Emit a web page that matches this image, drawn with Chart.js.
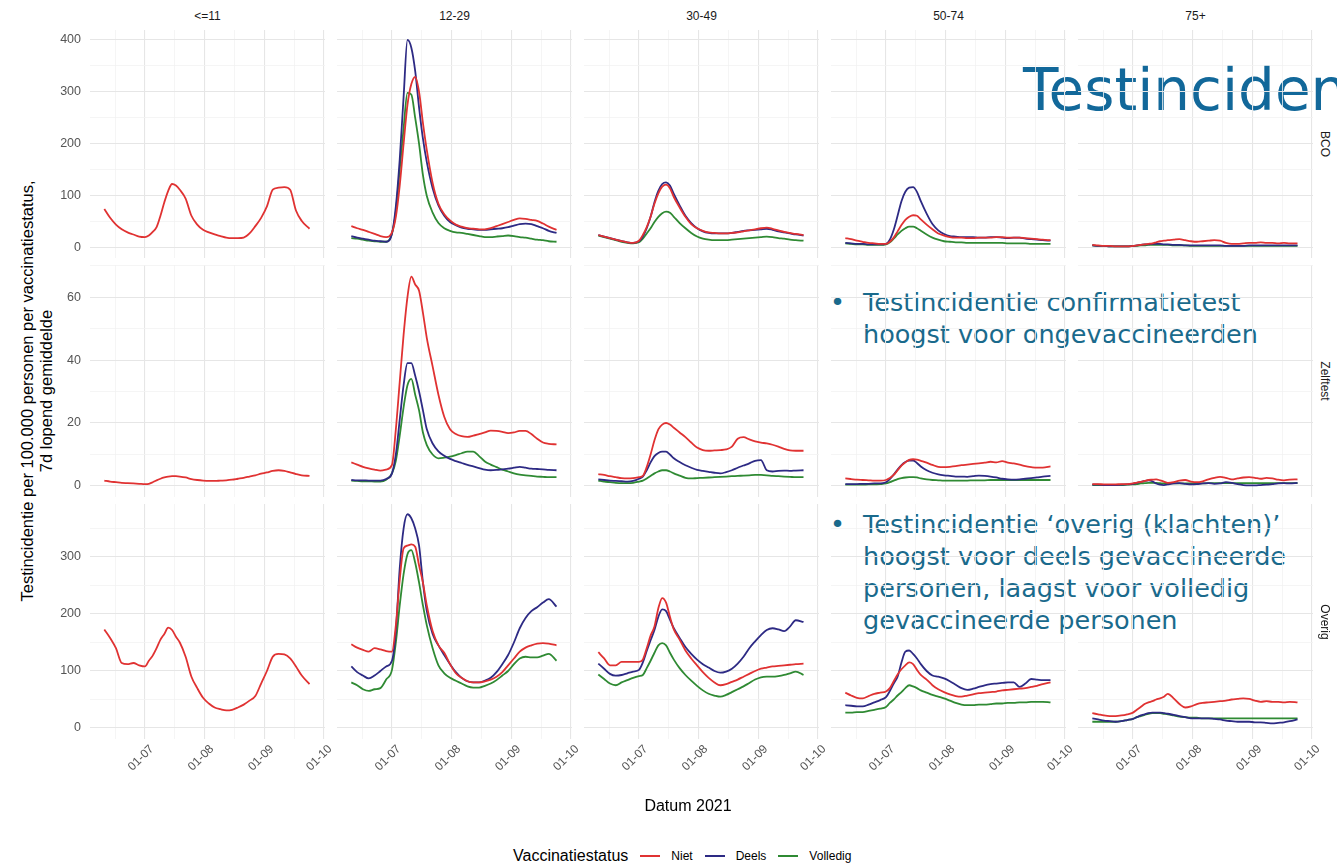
<!DOCTYPE html>
<html lang="nl">
<head>
<meta charset="UTF-8">
<title>Testincidentie per vaccinatiestatus</title>
<script src="https://cdn.jsdelivr.net/npm/chart.js"></script>
<style>
  body { margin:0; width:1337px; height:868px; overflow:hidden; background:#fff; position:relative;
         font-family:"Liberation Sans", Arial, sans-serif; }
  canvas { position:absolute; }
  .strip { position:absolute; font-size:12px; color:#1a1a1a; text-align:center; line-height:14px; }
  .axtitle { position:absolute; font-size:16px; color:#000; text-align:center; line-height:19px; white-space:nowrap; }
  #legend { position:absolute; left:513px; top:847px; display:flex; align-items:center; white-space:nowrap; }
  #legend .ttl { font-size:16px; margin-right:12px; }
  #legend .key { width:20px; height:2px; margin-right:11px; }
  #legend .lab { font-size:12px; margin-right:12px; }
  .slide { position:absolute; font-family:"DejaVu Sans", Verdana, sans-serif; white-space:nowrap; }
  #bigTitle { left:1023px; top:61px; font-size:58px; line-height:58px; color:#12689a; }
  .bullet { left:830px; font-size:25.5px; line-height:32px; color:#1a6a8c; display:flex; }
  .bullet .dot { width:33px; }
</style>
</head>
<body>

<div id="bigTitle" class="slide">Testincidentie</div>
<div class="slide bullet" style="top:286px"><span class="dot">•</span><span>Testincidentie confirmatietest<br>hoogst voor ongevaccineerden</span></div>
<div class="slide bullet" style="top:508px"><span class="dot">•</span><span>Testincidentie ‘overig (klachten)’<br>hoogst voor deels gevaccineerde<br>personen, laagst voor volledig<br>gevaccineerde personen</span></div>

<script>
// ---- data (day of year 2021) ----
const days = [161,164,167,170,173,176,179,182,184,186,188,190,192,194,196,198,200,203,206,209,212,215,218,221,224,227,230,233,236,239,242,245,248,251,254,257,260,263,267];
const ageGroups = ['<=11', '12-29', '30-49', '50-74', '75+'];
const testTypes = ['BCO', 'Zelftest', 'Overig'];
const statuses = ['Niet', 'Deels', 'Volledig'];
const monthTicks = [182, 213, 244, 274];
const monthLabels = ['01-07', '01-08', '01-09', '01-10'];
const bcoBreaks = [0, 100, 200, 300, 400];
const zelfBreaks = [0, 20, 40, 60];
const overigBreaks = [0, 100, 200, 300];

// BCO
const bco11Niet = [75,58,45,36,30,26,22,21,24,31,40,62,88,110,123,120,112,95,62,45,35,30,26,23,20,19,19,20,28,42,58,80,112,116,117,112,72,52,37];
const bco1229Niet = [42,38,35,31,27,23,21,30,60,120,200,275,315,329,300,240,188,125,85,65,53,45,41,38,37,36,36,38,42,46,50,54,57,56,54,52,47,41,35];
const bco1229Deels = [23,20,18,16,14,13,12,28,80,170,290,400,385,340,270,210,165,115,82,62,50,44,39,37,36,35,35,36,37,38,40,43,46,47,46,42,38,33,29];
const bco1229Volledig = [19,18,16,14,13,12,12,28,70,150,230,298,295,250,200,140,100,68,48,38,33,30,29,27,25,23,21,21,22,23,24,23,21,20,18,16,15,13,12];
const bco3049Niet = [25,22,19,16,13,11,10,14,25,40,60,85,105,118,122,115,98,78,60,46,38,33,30,29,28,28,29,30,32,34,36,38,39,37,34,31,29,27,25];
const bco3049Deels = [25,22,19,16,13,11,10,13,22,38,60,88,110,123,126,120,104,82,62,48,38,32,29,28,28,28,29,31,33,34,35,36,37,35,32,30,28,26,24];
const bco3049Volledig = [24,21,18,15,12,10,9,11,18,28,38,50,60,67,70,68,60,48,38,29,22,18,16,15,15,15,16,17,18,19,20,21,22,21,19,18,16,15,14];
const bco5074Niet = [19,17,14,12,10,9,8,8,12,20,32,44,54,60,63,62,55,45,36,28,24,21,20,20,19,19,20,20,20,21,21,20,20,20,19,18,17,16,15];
const bco5074Deels = [10,9,8,8,7,7,7,8,16,35,62,90,108,116,117,108,90,66,46,34,27,23,22,21,21,21,20,20,21,21,20,19,20,20,18,17,16,15,14];
const bco5074Volledig = [9,8,7,7,6,6,6,7,11,18,26,33,38,41,41,38,33,26,20,16,13,12,11,11,10,10,10,10,10,10,10,9,9,9,9,8,8,8,8];
const bco75Niet = [6,5,4,4,3,3,3,4,5,6,7,8,9,11,13,14,15,16,17,15,13,12,13,14,15,14,10,8,8,9,10,10,11,10,10,9,10,9,9];
const bco75Deels = [5,4,4,3,3,3,3,4,5,6,7,7,8,8,8,7,7,6,6,5,5,5,5,5,5,5,4,4,4,4,5,5,5,5,5,5,5,5,5];
const bco75Volledig = [5,4,4,3,3,3,3,4,4,5,5,6,6,6,6,6,6,5,5,5,4,4,4,4,4,4,4,4,4,4,4,4,4,4,4,4,4,4,4];

// Zelftest
const zelf11Niet = [1.7,1.4,1.2,1,0.9,0.8,0.7,0.6,0.7,1.2,1.8,2.3,2.7,3,3.1,3.1,3,2.7,2.2,1.9,1.7,1.6,1.6,1.7,1.8,2,2.3,2.6,3,3.4,3.9,4.3,4.8,5,4.8,4.3,3.8,3.4,3.2];
const zelf1229Niet = [7.5,6.8,6.1,5.6,5.2,4.9,5.2,6.7,18,33,48,60,66.5,64,62,55,47,38,29,22,18,16.5,15.8,15.6,16,16.5,17,17.6,17.5,17.2,16.8,17,17.5,17.5,16.5,15,13.8,13.4,13.2];
const zelf1229Deels = [1.9,1.8,1.8,1.7,1.7,1.7,2.2,4,10,21,32,39,39,35,30,24,18,13.5,11,9.6,8.6,7.9,7.3,6.7,6.2,5.7,5.2,5,5.1,5.3,5.5,5.8,6.1,5.8,5.5,5.4,5.3,5.1,5];
const zelf1229Volledig = [1.7,1.6,1.5,1.5,1.4,1.4,2,4,8,16,25,32,34,29,24,17,13,10,8.8,9,9.3,9.8,10.4,10.9,10.9,9.5,7.8,6.8,6,5.2,4.6,4,3.6,3.4,3.2,3,2.9,2.8,2.8];
const zelf3049Niet = [3.8,3.5,3.1,2.8,2.5,2.4,2.5,2.8,3.2,6,10,14.5,18,19.5,20,19.5,18.5,17,15.5,13.8,12.2,11.4,11.2,11.3,11.4,11.6,12.5,15,15.5,14.8,14.2,13.8,13.5,13.1,12.5,11.8,11.3,11.2,11.2];
const zelf3049Deels = [2.1,1.9,1.7,1.6,1.5,1.4,1.6,2.3,3,5,7.5,9.5,10.5,10.9,10.9,10,8.8,7.6,6.6,5.8,5.1,4.8,4.5,4.2,4,4.4,5,5.8,6.5,7.2,8,8.2,5,4.6,4.8,4.9,4.8,4.9,5];
const zelf3049Volledig = [1.7,1.4,1.2,1,0.9,0.9,1,1.4,1.7,2.4,3.2,4,4.6,5,5,4.6,4,3.3,2.6,2.4,2.5,2.6,2.7,2.8,2.9,3,3.1,3.2,3.3,3.4,3.5,3.5,3.4,3.2,3.1,3,2.9,2.8,2.8];
const zelf5074Niet = [2.4,2.2,2,1.9,1.8,1.7,1.7,1.9,2.5,3.5,5,6.5,7.5,8.3,8.5,8.4,8,7.4,6.7,6.1,6,6.1,6.3,6.6,6.8,7,7.2,7.4,7.7,7.5,7.9,7.4,7.2,6.8,6.3,6,5.8,5.8,6.2];
const zelf5074Deels = [0.6,0.6,0.6,0.7,0.7,0.8,0.8,1.2,2.2,3.6,5.2,6.6,7.6,8.1,8.1,7.3,6.2,5,4.2,3.7,3.4,3.2,3,3,2.9,3.1,3.3,3.2,3,2.7,2.3,2.1,2,2.1,2.3,2.5,2.7,3,3.2];
const zelf5074Volledig = [0.4,0.4,0.4,0.4,0.5,0.5,0.6,0.8,1.2,1.7,2.2,2.5,2.7,2.8,2.8,2.7,2.4,2.1,1.9,1.8,1.7,1.7,1.7,1.7,1.7,1.8,1.8,1.8,1.9,1.9,1.9,1.9,1.9,1.9,1.9,1.9,1.9,1.9,1.9];
const zelf75Niet = [0.6,0.6,0.5,0.5,0.5,0.6,0.6,0.8,1.1,1.3,1.6,1.9,2,2.1,1.8,1.4,1,1.2,1.7,1.9,1.4,1.2,1.5,2.1,2.6,2.9,2.6,2.1,2.4,2.7,2.8,2.6,2.3,2.6,2.4,2,1.8,2,2.1];
const zelf75Deels = [0.4,0.4,0.3,0.3,0.3,0.4,0.5,0.7,1,1.3,1.6,1.8,1.5,0.8,0.4,0.3,0.5,0.8,0.9,0.7,0.5,0.6,0.8,0.9,0.7,0.8,1.2,1,0.6,0.3,0.2,0.2,0.3,0.4,0.6,0.8,0.9,0.8,1];
const zelf75Volledig = [0.3,0.3,0.3,0.3,0.3,0.3,0.4,0.5,0.6,0.8,0.9,1,1,1,0.9,0.8,0.8,0.8,0.8,0.8,0.8,0.8,0.8,0.9,0.9,0.9,0.9,0.9,0.9,0.9,0.9,0.9,0.9,0.9,0.9,0.9,0.9,0.9,0.9];

// Overig
const ov11Niet = [173,158,140,114,112,114,110,108,118,127,140,155,165,176,172,160,150,125,90,70,53,43,36,33,31,32,36,41,48,56,78,100,125,130,129,122,108,92,77];
const ov1229Niet = [147,141,137,134,140,138,135,134,180,260,315,320,322,318,285,255,215,170,145,132,112,96,88,82,80,80,82,85,90,98,110,122,134,141,145,148,149,148,145];
const ov1229Deels = [108,98,92,87,92,100,108,118,170,280,350,375,368,350,320,255,205,165,145,128,112,98,88,82,80,80,83,88,98,112,128,150,175,193,205,212,220,226,213];
const ov1229Volledig = [80,75,68,65,68,70,85,102,150,215,270,305,312,290,255,215,180,140,110,96,88,83,78,73,71,71,74,78,84,92,100,112,122,125,124,124,127,130,118];
const ov3049Niet = [133,122,110,110,116,116,116,116,120,140,162,178,210,228,220,195,173,155,136,122,110,98,88,80,75,77,81,85,90,95,100,104,106,108,109,110,111,112,113];
const ov3049Deels = [113,104,95,92,93,96,99,102,115,135,154,172,195,208,205,190,175,158,142,130,120,112,106,100,97,99,104,113,125,140,152,163,172,175,173,170,178,189,186];
const ov3049Volledig = [94,86,78,75,80,84,88,91,93,105,118,132,145,149,145,132,120,105,93,83,74,66,60,57,55,58,63,68,73,79,85,89,90,90,91,93,96,99,93];
const ov5074Niet = [62,57,53,52,56,60,62,64,70,82,94,103,110,115,112,102,93,85,75,68,63,59,56,55,57,59,61,62,63,64,66,67,68,69,70,72,74,77,80];
const ov5074Deels = [40,39,38,38,41,45,49,54,65,78,90,115,134,136,130,122,112,100,92,90,87,82,76,70,67,69,72,75,77,78,79,80,80,72,78,86,85,84,84];
const ov5074Volledig = [27,27,28,28,30,32,34,37,44,50,57,63,70,75,73,70,66,62,58,55,52,48,44,41,40,40,41,41,42,43,43,44,44,45,45,46,46,46,45];
const ov75Niet = [26,24,22,21,21,22,24,27,32,37,42,45,47,50,52,55,60,52,42,36,38,42,44,45,46,47,48,50,51,52,51,48,46,47,46,46,45,46,45];
const ov75Deels = [17,15,13,12,11,12,14,16,19,22,24,26,27,27,27,26,25,23,21,19,17,17,17,17,16,15,13,12,11,11,11,10,10,9,8,9,10,12,15];
const ov75Volledig = [11,11,11,11,11,12,14,16,19,21,23,25,26,26,26,25,24,22,20,19,18,18,17,17,17,17,17,17,17,17,17,17,17,17,17,17,17,17,17];

// panel table built from the arrays above: [row][col] -> list of series (Niet, Deels, Volledig)
const panels = [
  [[bco11Niet], [bco1229Niet, bco1229Deels, bco1229Volledig], [bco3049Niet, bco3049Deels, bco3049Volledig],
   [bco5074Niet, bco5074Deels, bco5074Volledig], [bco75Niet, bco75Deels, bco75Volledig]],
  [[zelf11Niet], [zelf1229Niet, zelf1229Deels, zelf1229Volledig], [zelf3049Niet, zelf3049Deels, zelf3049Volledig],
   [zelf5074Niet, zelf5074Deels, zelf5074Volledig], [zelf75Niet, zelf75Deels, zelf75Volledig]],
  [[ov11Niet], [ov1229Niet, ov1229Deels, ov1229Volledig], [ov3049Niet, ov3049Deels, ov3049Volledig],
   [ov5074Niet, ov5074Deels, ov5074Volledig], [ov75Niet, ov75Deels, ov75Volledig]]
];
const rowBreaks = [bcoBreaks, zelfBreaks, overigBreaks];

// ---- layout / style ----
const statusColors = ['#e03232', '#2d2a84', '#2f8a33'];
const yLimits = [[-19.2, 419], [-3.5, 70.2], [-19.3, 393]];
const xMin = 153.6, xMax = 275;
const plotLeft0 = 90, colStep = 247, plotW = 235;
const rowTop = [30, 265, 504], rowBottom = [258, 497, 739];
const yAxisW = 32, xAxisH = 50, rightRoom = 14;
const majorGrid = '#e6e6e6', minorGrid = '#f2f2f2';

Chart.defaults.font.family = '"Liberation Sans", Arial, sans-serif';

function withMinor(breaks, max) {
  const step = breaks[1] - breaks[0];
  const out = [];
  breaks.forEach(b => { out.push(b); if (b + step / 2 <= max) out.push(b + step / 2); });
  return out;
}
const xGrid = [167, 182, 197.5, 213, 228.5, 244, 259, 274];

testTypes.forEach((tt, r) => {
  ageGroups.forEach((ag, c) => {
    const extraL = c === 0 ? yAxisW : 0;
    const extraB = r === 2 ? xAxisH : 0;
    const extraR = r === 2 ? rightRoom : 0;
    const cv = document.createElement('canvas');
    cv.width = plotW + extraL + extraR;
    cv.height = rowBottom[r] - rowTop[r] + extraB;
    cv.style.left = (plotLeft0 + c * colStep - extraL) + 'px';
    cv.style.top = rowTop[r] + 'px';
    document.body.appendChild(cv);

    const yGrid = withMinor(rowBreaks[r], yLimits[r][1]);
    new Chart(cv, {
      type: 'line',
      data: {
        datasets: panels[r][c].map((vals, i) => ({
          label: statuses[i],
          data: days.map((d, k) => ({ x: d, y: vals[k] })),
          borderColor: statusColors[i],
          borderWidth: 1.8,
          pointRadius: 0,
          cubicInterpolationMode: 'monotone',
          fill: false,
          order: i
        }))
      },
      options: {
        responsive: false,
        animation: false,
        events: [],
        layout: { padding: { left: 0, top: 0, bottom: 0, right: extraR } },
        plugins: { legend: { display: false }, tooltip: { enabled: false } },
        scales: {
          x: {
            type: 'linear', min: xMin, max: xMax,
            afterBuildTicks: s => { s.ticks = xGrid.map(v => ({ value: v })); },
            afterFit: s => { s.height = extraB; s.paddingLeft = 0; s.paddingRight = 0; },
            ticks: {
              display: r === 2, autoSkip: false, minRotation: 45, maxRotation: 45,
              labelOffset: 7, padding: 3, color: '#555', font: { size: 12 },
              callback: v => { const k = monthTicks.indexOf(v); return k >= 0 ? monthLabels[k] : ''; }
            },
            grid: {
              drawTicks: false,
              color: ctx => monthTicks.includes(ctx.tick.value) ? majorGrid : minorGrid,
              lineWidth: ctx => monthTicks.includes(ctx.tick.value) ? 1.1 : 0.8
            },
            border: { display: false }
          },
          y: {
            type: 'linear', min: yLimits[r][0], max: yLimits[r][1],
            afterBuildTicks: s => { s.ticks = yGrid.map(v => ({ value: v })); },
            afterFit: s => { s.width = extraL; s.paddingTop = 0; s.paddingBottom = 0; },
            ticks: {
              display: c === 0, padding: 9, color: '#555', font: { size: 12.5 },
              callback: v => rowBreaks[r].includes(v) ? String(v) : ''
            },
            grid: {
              drawTicks: false,
              color: ctx => rowBreaks[r].includes(ctx.tick.value) ? majorGrid : minorGrid,
              lineWidth: ctx => rowBreaks[r].includes(ctx.tick.value) ? 1.1 : 0.8
            },
            border: { display: false }
          }
        }
      }
    });
  });

  // right strip label
  const mid = (rowTop[r] + rowBottom[r]) / 2;
  const s = document.createElement('div');
  s.className = 'strip';
  s.textContent = tt;
  s.style.width = '120px';
  s.style.left = (1325 - 60) + 'px';
  s.style.top = (mid - 7) + 'px';
  s.style.transform = 'rotate(90deg)';
  document.body.appendChild(s);
});

// top strip labels
ageGroups.forEach((ag, c) => {
  const s = document.createElement('div');
  s.className = 'strip';
  s.textContent = ag;
  s.style.width = plotW + 'px';
  s.style.left = (plotLeft0 + c * colStep) + 'px';
  s.style.top = '9px';
  document.body.appendChild(s);
});

// axis titles
const yt = document.createElement('div');
yt.className = 'axtitle';
yt.style.fontSize = '16.5px';
yt.innerHTML = 'Testincidentie per 100.000 personen per vaccinatiestatus,<br>7d lopend gemiddelde';
yt.style.left = '37px';
yt.style.top = '391px';
yt.style.transform = 'translate(-50%, -50%) rotate(-90deg)';
document.body.appendChild(yt);

const xt = document.createElement('div');
xt.className = 'axtitle';
xt.textContent = 'Datum 2021';
xt.style.left = '688px';
xt.style.top = '805px';
xt.style.transform = 'translate(-50%, -50%)';
document.body.appendChild(xt);

// legend
const lg = document.createElement('div');
lg.id = 'legend';
lg.innerHTML = '<span class="ttl">Vaccinatiestatus</span>' + statuses.map((st, i) =>
  '<span class="key" style="background:' + statusColors[i] + '"></span><span class="lab">' + st + '</span>').join('');
document.body.appendChild(lg);
</script>
</body>
</html>
